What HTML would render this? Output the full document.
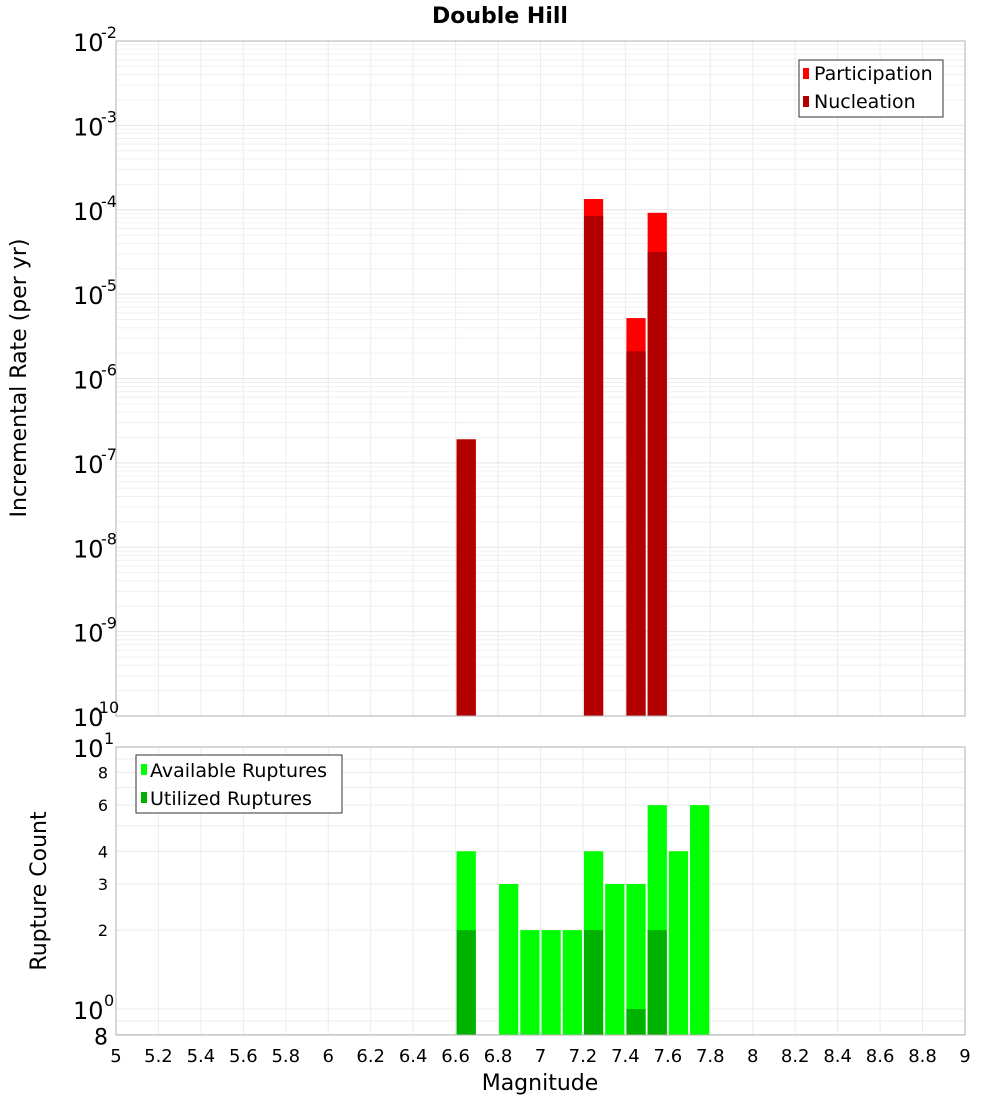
<!DOCTYPE html>
<html><head><meta charset="utf-8"><style>
body{margin:0;background:#fff;font-family:"Liberation Sans","DejaVu Sans",sans-serif;}
svg text{font-family:"DejaVu Sans","Liberation Sans",sans-serif;}
</style></head><body>
<svg id="chart" width="1000" height="1100" viewBox="0 0 1000 1100" xmlns="http://www.w3.org/2000/svg">
<text x="500" y="23" text-anchor="middle" font-size="22" font-weight="bold">Double Hill</text>
<g id="topPlot"></g>
<g id="botPlot"></g>
<text transform="translate(26,378) rotate(-90)" text-anchor="middle" font-size="22">Incremental Rate (per yr)</text>
<text transform="translate(46,891) rotate(-90)" text-anchor="middle" font-size="22">Rupture Count</text>
<text x="540" y="1090" text-anchor="middle" font-size="22">Magnitude</text>
<g id="legends">
<g>
<rect x="799" y="60" width="144" height="57" fill="#fff" stroke="#333"/>
<rect x="803" y="68" width="6" height="11" fill="#ff0000"/>
<text x="814" y="80" font-size="19">Participation</text>
<rect x="803" y="96" width="6" height="11" fill="#b20000"/>
<text x="814" y="108" font-size="19">Nucleation</text>
</g>
<g>
<rect x="136" y="755" width="206" height="58" fill="#fff" stroke="#333"/>
<rect x="141" y="764" width="6" height="11" fill="#00ff00"/>
<text x="150" y="777" font-size="19">Available Ruptures</text>
<rect x="141" y="792" width="6" height="11" fill="#00b200"/>
<text x="150" y="805" font-size="19">Utilized Ruptures</text>
</g>
</g>
</svg>
<script>
const NS="http://www.w3.org/2000/svg";
const rateMags=[6.65,7.25,7.45,7.55];
const participation=[1.9e-7,1.34e-4,5.2e-6,9.2e-5];
const nucleation=[1.9e-7,8.45e-5,2.1e-6,3.16e-5];
const countMags=[6.65,6.85,6.95,7.05,7.15,7.25,7.35,7.45,7.55,7.65,7.75];
const available=[4,3,2,2,2,4,3,3,6,4,6];
const utilized=[2,0,0,0,0,2,0,1,2,0,0];
const xTicks=["5","5.2","5.4","5.6","5.8","6","6.2","6.4","6.6","6.8","7","7.2","7.4","7.6","7.8","8","8.2","8.4","8.6","8.8","9"];
const rateExps=[-2,-3,-4,-5,-6,-7,-8,-9,-10];
const countTicks=[0.8,2,3,4,6,8];

const X0=116,X1=965,T0=41,T1=716,B0=747,B1=1035;
const xs=m=>X0+(m-5)/4*(X1-X0);
const yR=v=>T0+(-2-Math.log10(v))*(T1-T0)/8;
const yC=v=>1009-Math.log10(v)*262;
function mk(p,t,a){const e=document.createElementNS(NS,t);for(const k in a)e.setAttribute(k,a[k]);p.appendChild(e);return e;}
const svgEl=document.getElementById('chart');
const topG=document.getElementById('topPlot'),botG=document.getElementById('botPlot');

function frame(g,y0,y1){
  mk(g,'rect',{x:X0,y:y0,width:X1-X0,height:y1-y0,fill:'#fff'});
  for(let i=0;i<xTicks.length;i++){const xx=xs(+xTicks[i]);
    const l=mk(g,'line',{x1:xx,x2:xx,y1:y0,y2:y1,stroke:'#ececec'});
    
    }
}
frame(topG,T0,T1);frame(botG,B0,B1);
for(let e=-10;e<-2;e++){for(let k=1;k<10;k++){const yy=yR(k*Math.pow(10,e));
  const l=mk(topG,'line',{x1:X0,x2:X1,y1:yy,y2:yy,stroke:k==1?'#e4e4e4':'#f0f0f0'});
  
  }}
[0.8,0.9,1,2,3,4,5,6,7,8,9,10].forEach(v=>{const yy=yC(v);if(yy<B0||yy>B1)return;
  const l=mk(botG,'line',{x1:X0,x2:X1,y1:yy,y2:yy,stroke:'#ececec'});
  
  });
rateMags.forEach((m,i)=>{
  const bx=xs(m-0.05)+1,bw=xs(m+0.05)-xs(m-0.05)-2;
  const p=mk(topG,'rect',{x:bx,y:yR(participation[i]),width:bw,height:T1-yR(participation[i]),fill:'#ff0000'});
  
  
  const n=mk(topG,'rect',{x:bx,y:yR(nucleation[i]),width:bw,height:T1-yR(nucleation[i]),fill:'#b20000'});
  
  
});
countMags.forEach((m,i)=>{
  const bx=xs(m-0.05)+1,bw=xs(m+0.05)-xs(m-0.05)-2;
  const a=mk(botG,'rect',{x:bx,y:yC(available[i]),width:bw,height:B1-yC(available[i]),fill:'#00ff00'});
  
  
  if(utilized[i]>0){
  const u=mk(botG,'rect',{x:bx,y:yC(utilized[i]),width:bw,height:B1-yC(utilized[i]),fill:'#00b200'});
  
  }
});
mk(topG,'rect',{x:X0,y:T0,width:X1-X0,height:T1-T0,fill:'none',stroke:'#b0b0b0'});
mk(botG,'rect',{x:X0,y:B0,width:X1-X0,height:B1-B0,fill:'none',stroke:'#b0b0b0'});
xTicks.forEach(t=>{const tx=mk(svgEl,'text',{x:xs(+t),y:1062,'text-anchor':'middle','font-size':18});tx.textContent=t;
  
  });
rateExps.forEach(e=>{const yy=yR(Math.pow(10,e));
  const tx=mk(svgEl,'text',{x:73,y:yy+10,'font-size':24});
  tx.textContent='10';
  
  
  const s=mk(svgEl,'text',{x:101,y:yy-3,'font-size':16});s.textContent=String(e);
  
  
  if(e==-10)s.setAttribute('x',93);
});
countTicks.forEach(v=>{const yy=yC(v);
  const tx=mk(svgEl,'text',{x:108,y:yy+6,'text-anchor':'end','font-size':v==0.8?22:16});
  tx.textContent=v==0.8?'8':String(v);
  
  
  if(v==0.8)tx.setAttribute('y',yy+10);
});
[[1,'0'],[10,'1']].forEach(([v,e])=>{const yy=yC(v);
  const tx=mk(svgEl,'text',{x:73,y:yy+10,'font-size':24});tx.textContent='10';
  
  
  const s=mk(svgEl,'text',{x:104,y:yy-3,'font-size':16});s.textContent=e;
  
  
});
svgEl.appendChild(document.getElementById('legends'));
</script>
</body></html>
